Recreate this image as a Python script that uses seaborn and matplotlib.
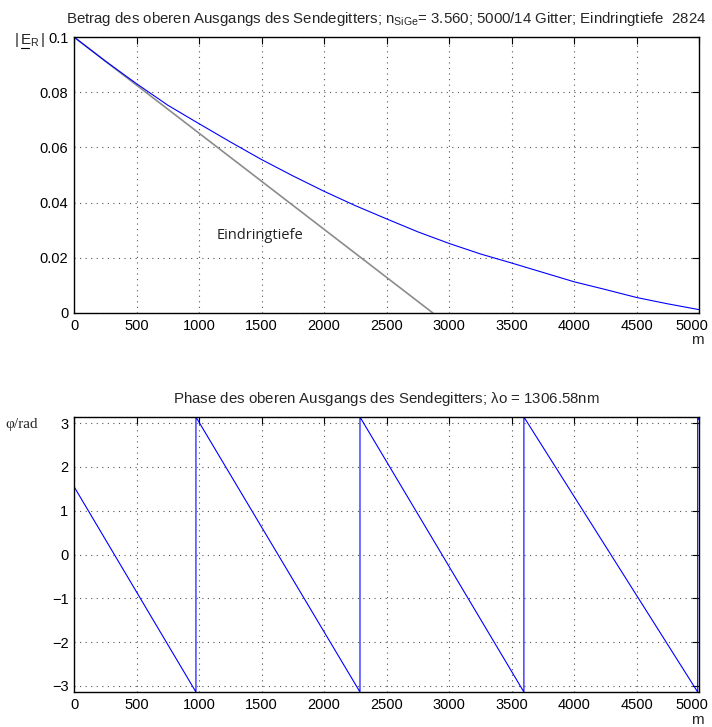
import numpy as np
import pandas as pd
import matplotlib
matplotlib.use("Agg")
import matplotlib.pyplot as plt
import matplotlib.transforms as mtransforms
from matplotlib.lines import Line2D
import seaborn as sns

# Betrag |E_R| entlang des Gitters
x_betrag = [0, 250, 500, 750, 1000, 1250, 1500, 1750, 2000, 2250, 2500,
            2750, 3000, 3250, 3500, 3750, 4000, 4250, 4500, 4750, 5000]
y_betrag = [0.100, 0.0913, 0.0831, 0.0753, 0.0686, 0.0620, 0.0556, 0.0497, 0.0441, 0.0389, 0.0341,
            0.0294, 0.0252, 0.0214, 0.0181, 0.0147, 0.0113, 0.0085, 0.0056, 0.0033, 0.0012]

# Tangente / Eindringtiefe
x_tangente = [0, 2870]
y_tangente = [0.100, 0.0]

# Phase (Sprungstellen bei -pi -> pi)
x_phase = [0, 975, 975, 2287, 2287, 3598, 3598, 4988, 4988, 5000]
y_phase = [1.55, -np.pi, np.pi, -np.pi, np.pi, -np.pi, np.pi, -np.pi, np.pi, 3.08]

x_ticks = [0, 500, 1000, 1500, 2000, 2500, 3000, 3500, 4000, 4500, 5000]
y_ticks_betrag = [0, 0.02, 0.04, 0.06, 0.08, 0.1]
y_ticks_phase = [-3, -2, -1, 0, 1, 2, 3]

sns.set_style("white")
plt.rcParams['font.family'] = ['Liberation Sans', 'DejaVu Sans']
plt.rcParams['mathtext.fontset'] = 'custom'
plt.rcParams['mathtext.rm'] = 'Liberation Sans'
plt.rcParams['mathtext.it'] = 'Liberation Sans'


def style_axes(ax):
    ax.tick_params(direction='in', length=5, width=0.8, top=True, right=True,
                   labelsize=10.5, colors='black', pad=4)
    ax.grid(True, linestyle=(0, (1, 4)), color='#555555', linewidth=0.8)
    for s in ax.spines.values():
        s.set_color('black')
        s.set_linewidth(1.0)
    ax.set_xlabel('')
    ax.set_ylabel('')
    # letzte Beschriftung (5000) etwas nach links, wie im Original
    last = ax.get_xticklabels()[-1]
    last.set_transform(last.get_transform() + mtransforms.ScaledTranslation(-7 / 100, 0, fig.dpi_scale_trans))


fig = plt.figure(figsize=(7.12, 7.27), dpi=100)
ax1 = fig.add_axes([0.104, 0.5695, 0.878, 0.3795])
ax2 = fig.add_axes([0.104, 0.0481, 0.878, 0.3783])

df_betrag = pd.DataFrame({'x': x_betrag, 'y': y_betrag})
df_tangente = pd.DataFrame({'x': x_tangente, 'y': y_tangente})
df_phase = pd.DataFrame({'x': x_phase, 'y': y_phase})

# oberes Bild: Betrag
sns.lineplot(data=df_tangente, x='x', y='y', ax=ax1, color='#8c8c8c', linewidth=1.2,
             sort=False, estimator=None)
sns.lineplot(data=df_betrag, x='x', y='y', ax=ax1, color='#0000ff', linewidth=0.8,
             sort=False, estimator=None)
ax1.set_xlim(0, 5000)
ax1.set_ylim(0, 0.1)
ax1.set_xticks(x_ticks)
ax1.set_yticks(y_ticks_betrag)
ax1.set_yticklabels(['0', '0.02', '0.04', '0.06', '0.08', '0.1'])
style_axes(ax1)
ax1.set_title(r'Betrag des oberen Ausgangs des Sendegitters; n$_{\mathrm{SiGe}}$= 3.560; 5000/14 Gitter; Eindringtiefe  2824',
              fontsize=10.8, pad=10)
ax1.text(1137, 0.0281, 'Eindringtiefe', fontsize=10.5, family=['Open Sans', 'DejaVu Sans'],
         va='center', ha='left', color='#222222')
ax1.text(0.997, -0.098, 'm', transform=ax1.transAxes, ha='center', va='center', fontsize=11)

# |E_R| mit unterstrichenem E
fig.text(0.019, 0.945, r'$|\,\mathrm{E}_{\mathrm{R}}\,|$', fontsize=11, ha='left', va='center')
fig.add_artist(Line2D([0.0295, 0.0405], [0.9335, 0.9335], transform=fig.transFigure,
                      color='black', linewidth=0.8))

# unteres Bild: Phase
sns.lineplot(data=df_phase, x='x', y='y', ax=ax2, color='#0000ff', linewidth=0.8,
             sort=False, estimator=None)
ax2.set_xlim(0, 5000)
ax2.set_ylim(-np.pi, np.pi)
ax2.set_xticks(x_ticks)
ax2.set_yticks(y_ticks_phase)
style_axes(ax2)
ax2.set_title(r'Phase des oberen Ausgangs des Sendegitters; $\lambda$o = 1306.58nm', fontsize=10.8, pad=10)
ax2.text(0.997, -0.102, 'm', transform=ax2.transAxes, ha='center', va='center', fontsize=11)
fig.text(0.008, 0.416, 'φ/rad', fontsize=11, family=['Liberation Serif', 'DejaVu Serif'],
         ha='left', va='center')

fig.savefig('out.png', dpi=100)
